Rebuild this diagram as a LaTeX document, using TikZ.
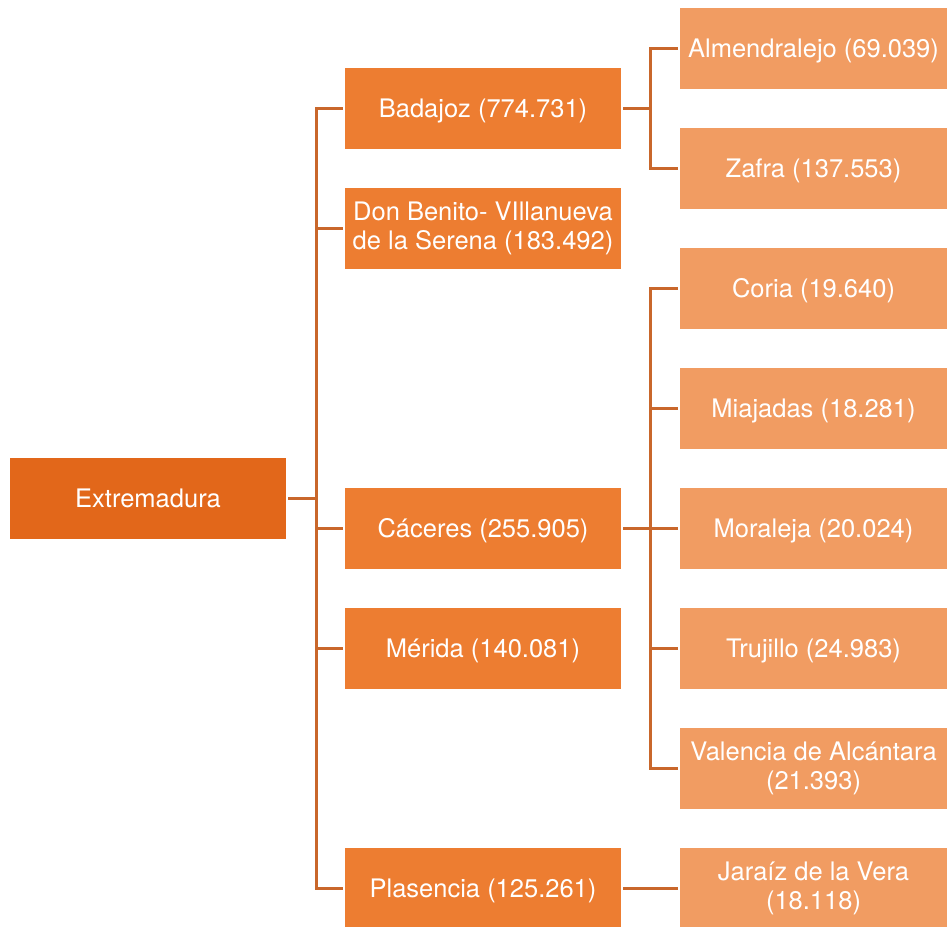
\documentclass[tikz,border=0pt]{standalone}
\usepackage{fontspec}
\setmainfont{TeX Gyre Heros}
\definecolor{cTop}{HTML}{E2671A}
\definecolor{cMid}{HTML}{ED7D31}
\definecolor{cLow}{HTML}{F19C62}
\definecolor{cLine}{HTML}{C9672B}
\tikzset{
  box/.style={rectangle, inner sep=0pt, align=center, text=white,
    font=\fontsize{25.5}{29}\selectfont},
  one/.style={text height=18.5pt, text depth=0pt},
  topbox/.style={box, fill=cTop, minimum width=276pt, minimum height=81pt},
  midbox/.style={box, fill=cMid, minimum width=276pt, minimum height=81pt},
  lowbox/.style={box, fill=cLow, minimum width=267pt, minimum height=81pt},
  conn/.style={draw=cLine, line width=3pt, line cap=rect},
}
\begin{document}
\begin{tikzpicture}[x=1pt,y=-1pt]
\useasboundingbox (0,0) rectangle (947,926);
\clip (0,0) rectangle (947,926);
\node[topbox, one] (ext) at (148,498.5) {Extremadura};
\node[midbox, one] (bad) at (483,108.5) {Badajoz (774.731)};
\node[midbox] (don) at (483,228.5) {Don Benito- VIllanueva\\de la Serena (183.492)};
\node[midbox, one] (cac) at (483,528.5) {Cáceres (255.905)};
\node[midbox, one] (mer) at (483,648.5) {Mérida (140.081)};
\node[midbox, one] (pla) at (483,888.5) {Plasencia (125.261)};
\node[lowbox, one] (alm) at (813.5,48.5) {Almendralejo (69.039)};
\node[lowbox, one] (zaf) at (813.5,168.5) {Zafra (137.553)};
\node[lowbox, one] (cor) at (813.5,288.5) {Coria (19.640)};
\node[lowbox, one] (mia) at (813.5,408.5) {Miajadas (18.281)};
\node[lowbox, one] (mor) at (813.5,528.5) {Moraleja (20.024)};
\node[lowbox, one] (tru) at (813.5,648.5) {Trujillo (24.983)};
\node[lowbox] (val) at (813.5,768.5) {Valencia de Alcántara\\(21.393)};
\node[lowbox] (jar) at (813.5,888.5) {Jaraíz de la Vera\\(18.118)};
\coordinate (j1) at (316,498.5);
\coordinate (j2) at (650,108.5);
\coordinate (j3) at (650,528.5);
% level 1 to level 2
\draw[conn, shorten <=3pt] (ext) -- (j1);
\draw[conn] (j1 |- bad) -- (j1 |- pla);
\foreach \n in {bad,don,cac,mer,pla}
  \draw[conn, shorten >=3pt] (j1 |- \n) -- (\n);
% Badajoz
\draw[conn, shorten <=3pt] (bad) -- (j2);
\draw[conn] (j2 |- alm) -- (j2 |- zaf);
\foreach \n in {alm,zaf}
  \draw[conn, shorten >=3pt] (j2 |- \n) -- (\n);
% Caceres
\draw[conn, shorten <=3pt] (cac) -- (j3);
\draw[conn] (j3 |- cor) -- (j3 |- val);
\foreach \n in {cor,mia,mor,tru,val}
  \draw[conn, shorten >=3pt] (j3 |- \n) -- (\n);
% Plasencia
\draw[conn, shorten <=3pt, shorten >=3pt] (pla) -- (jar);
\end{tikzpicture}
\end{document}
